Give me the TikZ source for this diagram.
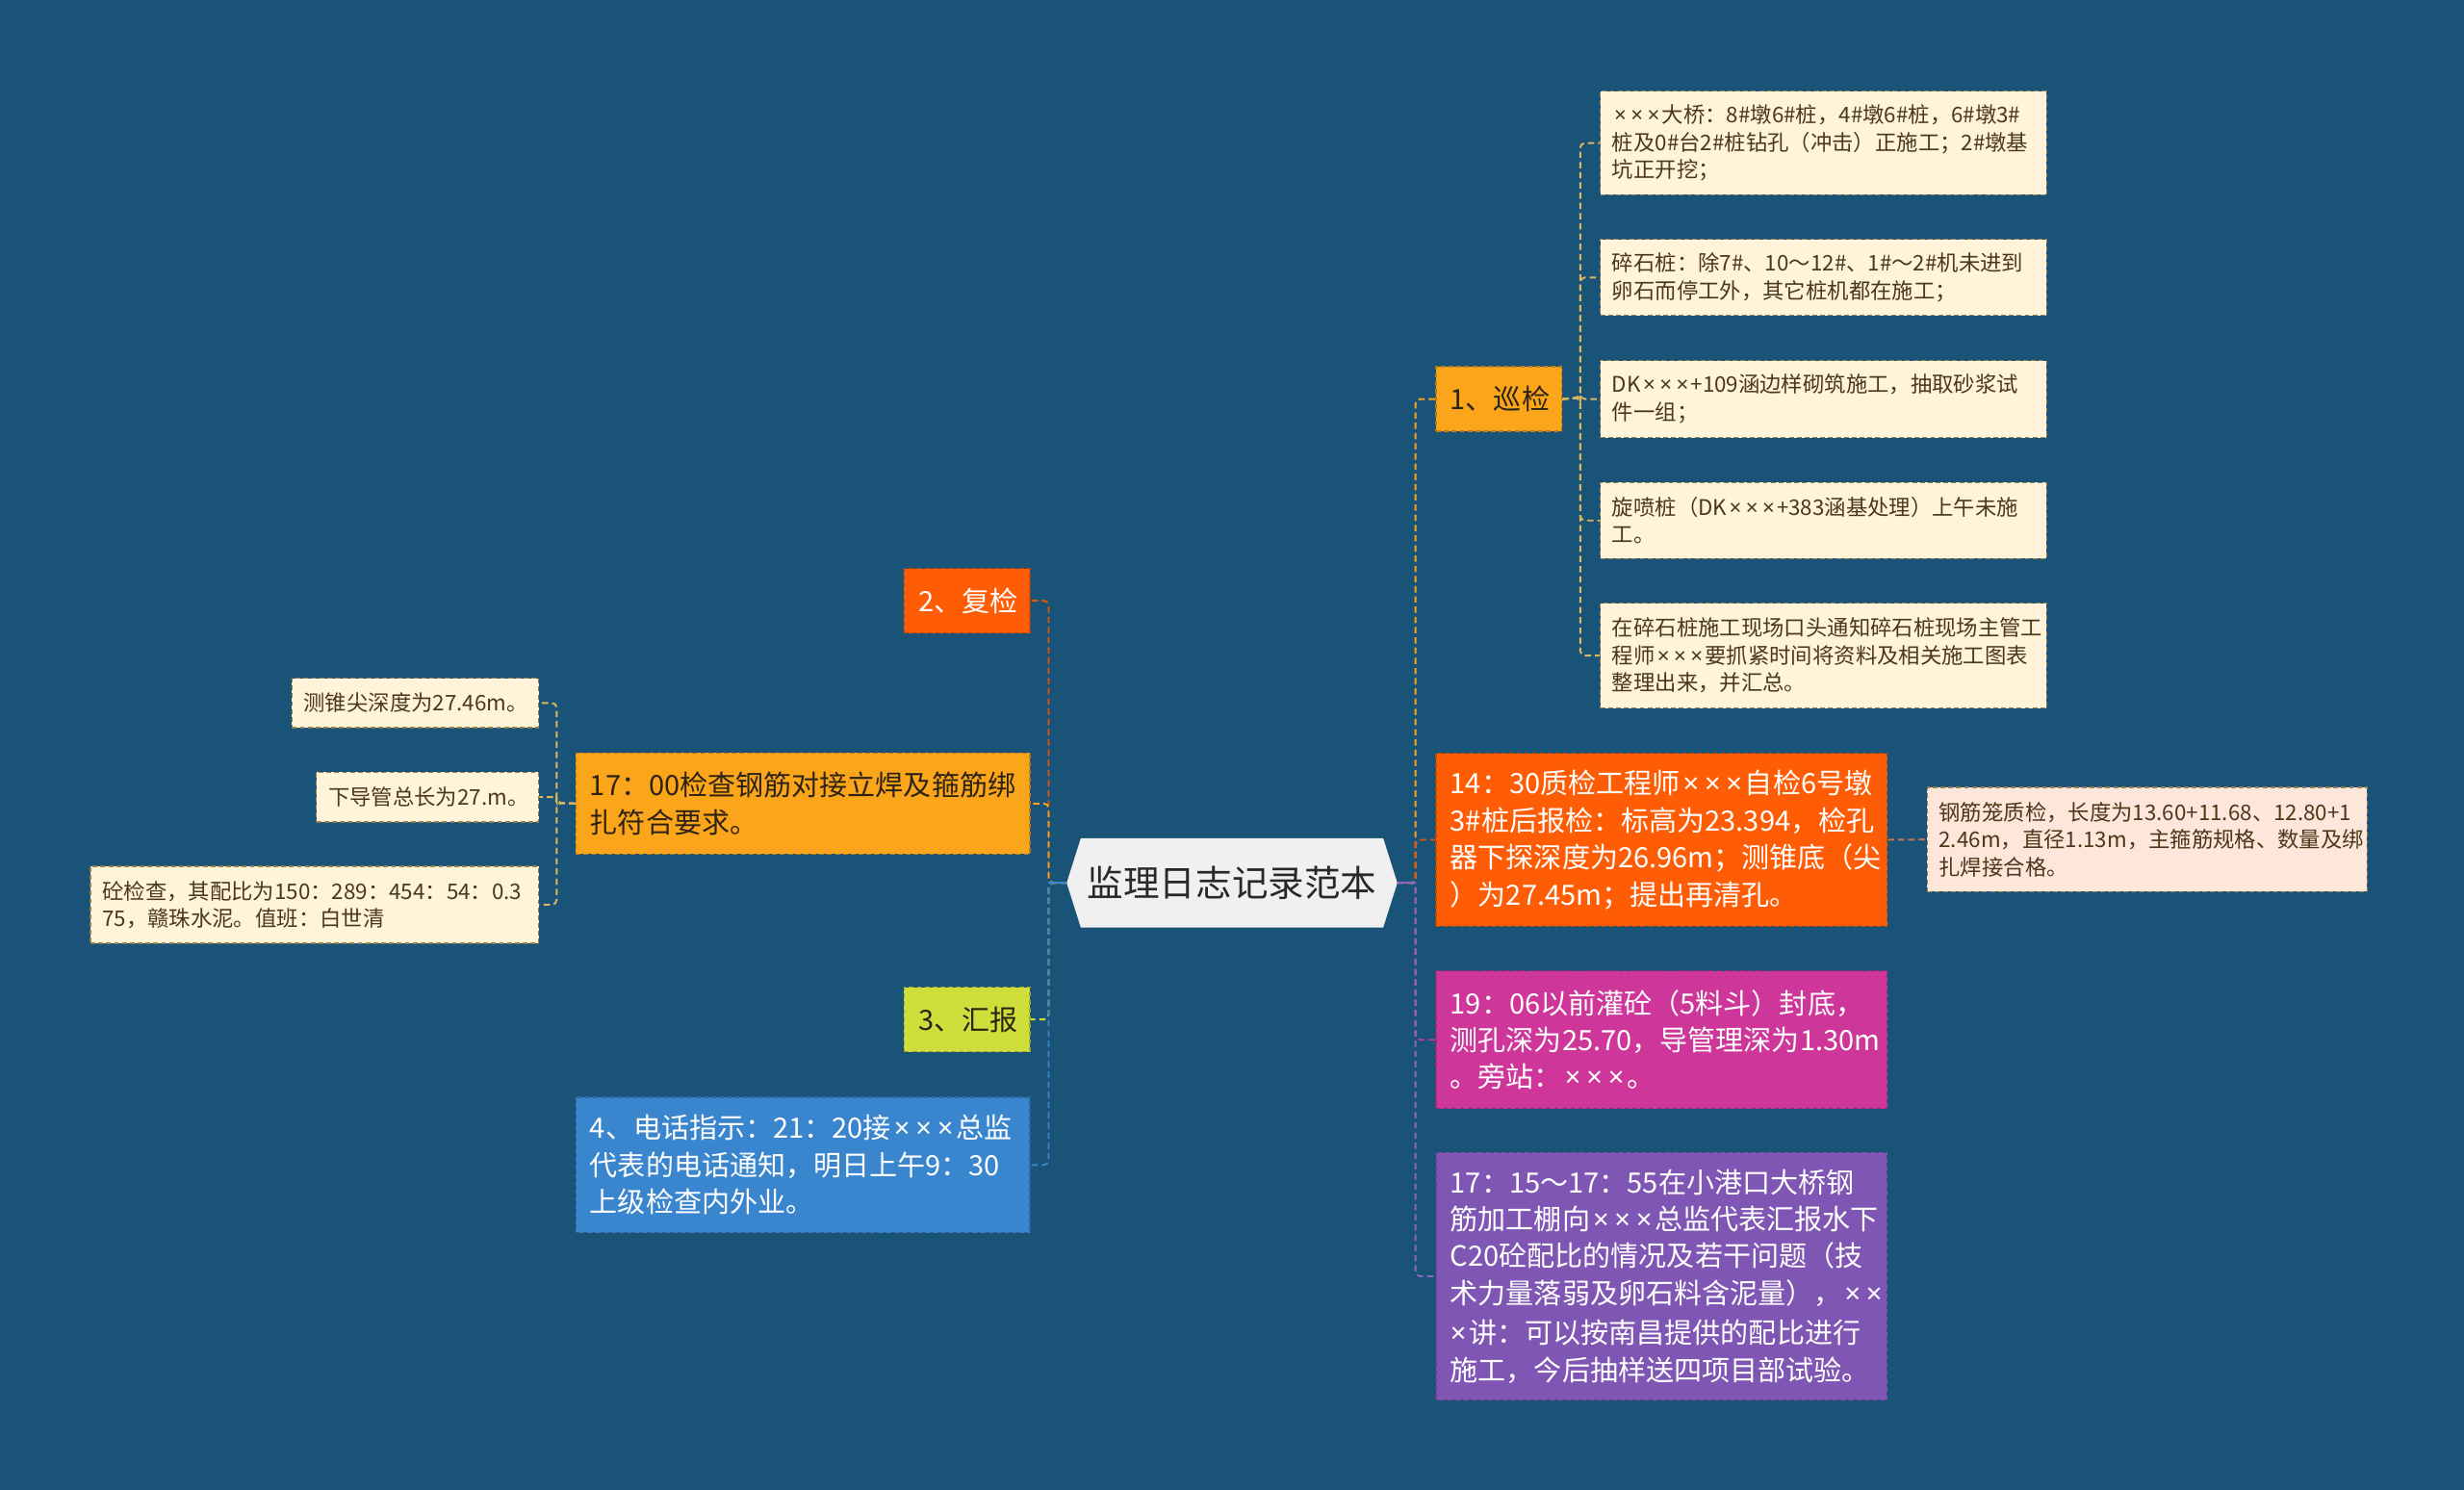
\documentclass[tikz,border=0pt]{standalone}
\usepackage{fontspec}
\setmainfont{Noto Sans CJK SC}
\newfontfamily\latinfont{Noto Sans}
\newcommand{\xx}{\kern0.1em{\latinfont ×}\kern0.1em}
\usetikzlibrary{backgrounds}

\definecolor{bgblue}{RGB}{26,83,120}
\definecolor{rootfill}{RGB}{240,240,240}
\definecolor{roottext}{RGB}{40,40,40}
\definecolor{amber}{RGB}{250,165,26}
\definecolor{redorange}{RGB}{255,93,5}
\definecolor{magentanode}{RGB}{206,55,153}
\definecolor{purplenode}{RGB}{128,86,180}
\definecolor{limenode}{RGB}{208,222,60}
\definecolor{bluenode}{RGB}{58,134,206}
\definecolor{cream}{RGB}{255,243,218}
\definecolor{peach}{RGB}{253,230,218}
\definecolor{creamline}{RGB}{150,125,80}
\definecolor{leaftext}{RGB}{75,55,25}
\definecolor{darktext}{RGB}{45,35,20}
\definecolor{twigline}{RGB}{222,182,92}
\definecolor{peachline}{RGB}{200,120,80}

\begin{document}
\begin{tikzpicture}[
    x=1pt, y=-1pt,
    box/.style={rectangle, anchor=north west, align=left, draw, line width=0.8pt,
        dash pattern=on 3pt off 2pt, inner xsep=9pt, inner ysep=0pt,
        font=\fontsize{17.8}{23.5}\selectfont},
    tag/.style={box, align=center, text width=62pt, minimum height=41pt},
    leaf/.style={box, fill=cream, draw=creamline, text=leaftext, inner xsep=7.5pt,
        font=\fontsize{13.7}{17.4}\selectfont},
    link/.style={line width=1.2pt, dash pattern=on 4pt off 2.5pt, rounded corners=3pt},
    twig/.style={link, draw=twigline}
]
\useasboundingbox (0,0) rectangle (1568,948);
\begin{scope}[on background layer]
    \fill[bgblue] (0,0) rectangle (1568,948);
\end{scope}

% Root
\node[font=\fontsize{23}{28}\selectfont, text=roottext, minimum width=210pt,
    minimum height=56.5pt, inner sep=0pt] (root) at (784,561.8) {监理日志记录范本};
\begin{scope}[on background layer]
    \fill[rootfill] (root.west) -- ([xshift=9pt]root.north west)
        -- ([xshift=-9pt]root.north east) -- (root.east)
        -- ([xshift=-9pt]root.south east) -- ([xshift=9pt]root.south west) -- cycle;
\end{scope}
\coordinate (rtrunk) at (900.8,561.8);
\coordinate (ltrunk) at (667.3,561.8);

% Right: 巡检 and the notes
\node[tag, fill=amber, draw=amber!75!black, text=darktext] (n1) at (913.5,233) {1、巡检};
\node[box, fill=redorange, draw=redorange!75!black, text=white, text width=269pt,
    minimum height=110pt] (n2) at (913.5,479) {14：30质检工程师\xx\xx\xx 自检6号墩\\3\#桩后报检：标高为23.394，检孔\\器下探深度为26.96m；测锥底（尖\\）为27.45m；提出再清孔。};
\node[box, fill=magentanode, draw=magentanode!75!black, text=white, text width=269pt,
    minimum height=87.5pt] (n3) at (913.5,617.5) {19：06以前灌砼（5料斗）封底，\\测孔深为25.70，导管理深为1.30m\\。旁站：\xx\xx\xx。};
\node[box, fill=purplenode, draw=purplenode!75!black, text=white, text width=269pt,
    minimum height=157.5pt] (n4) at (913.5,733) {17：15～17：55在小港口大桥钢\\筋加工棚向\xx\xx\xx 总监代表汇报水下\\C20砼配比的情况及若干问题（技\\术力量落弱及卵石料含泥量），\xx\xx\\\xx 讲：可以按南昌提供的配比进行\\施工，今后抽样送四项目部试验。};

\node[leaf, text width=269pt, minimum height=66pt] (c1) at (1018,57.6) {\xx\xx\xx 大桥：8\#墩6\#桩，4\#墩6\#桩，6\#墩3\#\\桩及0\#台2\#桩钻孔（冲击）正施工；2\#墩基\\坑正开挖；};
\node[leaf, text width=269pt, minimum height=48.4pt] (c2) at (1018,152) {碎石桩：除7\#、10～12\#、1\#～2\#机未进到\\卵石而停工外，其它桩机都在施工；};
\node[leaf, text width=269pt, minimum height=49pt] (c3) at (1018,229) {DK\xx\xx\xx+109涵边样砌筑施工，抽取砂浆试\\件一组；};
\node[leaf, text width=269pt, minimum height=48.4pt] (c4) at (1018,306.6) {旋喷桩（DK\xx\xx\xx+383涵基处理）上午未施\\工。};
\node[leaf, text width=269pt, minimum height=66.8pt] (c5) at (1018,383.4) {在碎石桩施工现场口头通知碎石桩现场主管工\\程师\xx\xx\xx 要抓紧时间将资料及相关施工图表\\整理出来，并汇总。};
\node[leaf, fill=peach, text width=265pt, minimum height=66.4pt] (p1) at (1226,500.6) {钢筋笼质检，长度为13.60+11.68、12.80+1\\2.46m，直径1.13m，主箍筋规格、数量及绑\\扎焊接合格。};

% Left: 复检, 汇报 and the notes
\node[tag, fill=redorange, draw=redorange!75!black, text=white] (l1) at (575,361.4) {2、复检};
\node[box, fill=amber, draw=amber!75!black, text=darktext, text width=271pt,
    minimum height=64.2pt] (l2) at (366,478.8) {17：00检查钢筋对接立焊及箍筋绑\\扎符合要求。};
\node[tag, fill=limenode, draw=limenode!75!black, text=darktext] (l3) at (575,627.8) {3、汇报};
\node[box, fill=bluenode, draw=bluenode!75!black, text=white, text width=271pt,
    minimum height=86.2pt] (l4) at (366,697.8) {4、电话指示：21：20接\xx\xx\xx 总监\\代表的电话通知，明日上午9：30\\上级检查内外业。};

\node[leaf, text width=142pt, minimum height=31.4pt] (d1) at (185.4,431.2) {测锥尖深度为27.46m。};
\node[leaf, text width=126.4pt, minimum height=31.6pt] (d2) at (201,491) {下导管总长为27.m。};
\node[leaf, text width=270.2pt, minimum height=49pt] (d3) at (57.2,550.8) {砼检查，其配比为150：289：454：54：0.3\\75，赣珠水泥。值班：白世清};

% links
\draw[link, amber] (root.east) -- (rtrunk) |- (n1.west);
\draw[link, redorange!90!black] (root.east) -- (rtrunk) |- (n2.west);
\draw[link, magentanode] (root.east) -- (rtrunk) |- (n3.west);
\draw[link, purplenode!90!white] (root.east) -- (rtrunk) |- (n4.west);
\draw[line width=1.2pt, purplenode!90!white] (root.east) -- (rtrunk);

\draw[link, redorange!90!black] (root.west) -- (ltrunk) |- (l1.east);
\draw[link, amber] (root.west) -- (ltrunk) |- (l2.east);
\draw[link, limenode] (root.west) -- (ltrunk) |- (l3.east);
\draw[link, bluenode] (root.west) -- (ltrunk) |- (l4.east);
\draw[line width=1.2pt, bluenode] (root.west) -- (ltrunk);

\coordinate (xt) at (1005.6,253);
\foreach \c in {c1,c2,c3,c4,c5}
    \draw[twig] (n1.east) -- (xt) |- (\c.west);
\draw[link, peachline] (n2.east) -- (p1.west);

\coordinate (yt) at (354.2,510.9);
\foreach \c in {d1,d2,d3}
    \draw[twig] (l2.west) -- (yt) |- (\c.east);

\end{tikzpicture}
\end{document}
